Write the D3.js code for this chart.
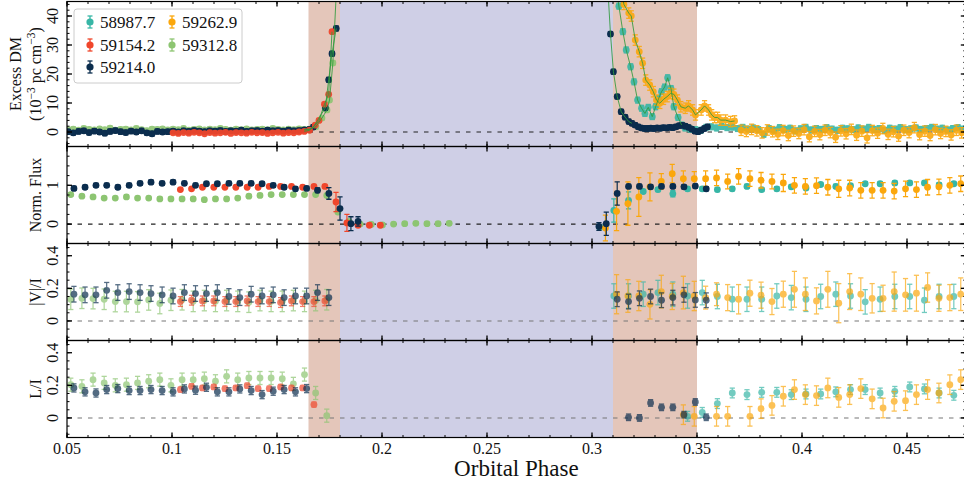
<!DOCTYPE html>
<html>
<head>
<meta charset="utf-8">
<script src="https://cdn.jsdelivr.net/npm/d3@7"></script>
<style>
  body { margin: 0; background: #fff; }
  svg { display: block; }
  text { font-family: "Liberation Serif", "DejaVu Serif", serif; fill: #111; }
</style>
</head>
<body>
<div id="chart"></div>
<script>
// ---- series ----
const seriesNames = ["58987.7", "59154.2", "59214.0", "59262.9", "59312.8"];
const seriesColors = ["#37b6a6", "#f0462b", "#0b2d4e", "#fba70c", "#8dc572"];

// ---- excess DM (1e-3 pc cm^-3), baselines sampled every 0.0025 in phase ----
const dmStep = 0.0025;
const navyDmStart = 0.0505;
const navyDmBase = [0.1, -0.3, 0.2, 0.4, -0.2, 0.3, 0.0, -0.4, 0.2, 0.5, 0.1, -0.2, 0.3, 0.0, 0.4, -0.3, -0.6, 0.2, 0.0, 0.1,
  0.3, 0.0, 0.4, 0.2, 0.5, 0.3, 0.1, 0.4, 0.3, 0.5, 0.2, 0.4, 0.3, 0.6, 0.2, 0.4, 0.5, 0.3, 0.6, 0.4,
  0.5, 0.3, 0.6, 0.4, 0.5, 0.7, 0.9];
const navyDmIngress = [[0.1673, 1.7], [0.173, 8.3], [0.1746, 18], [0.1762, 27], [0.1782, 35.7]];
const navyDmEgress = [[0.3075, 50], [0.3088, 33.8], [0.3102, 20.8], [0.312, 12.2], [0.3139, 7], [0.3158, 5.1], [0.3175, 3.6], [0.319, 3.0]];
const navyDmTail = [[0.3205, 2.4], [0.322, 1.8], [0.3235, 1.4], [0.325, 1.2], [0.3265, 1.2], [0.328, 1.3], [0.3295, 1.2],
  [0.331, 1.4], [0.3325, 1.3], [0.334, 1.5], [0.3355, 1.4], [0.337, 1.6], [0.3385, 1.5], [0.34, 1.8], [0.3415, 2.2],
  [0.343, 2.3], [0.3445, 2.0], [0.346, 1.6], [0.3475, 1.0], [0.349, 0.3], [0.3505, 0.1], [0.352, 0.6], [0.3535, 1.2], [0.355, 1.8]];

const greenDmStart = 0.0505;
const greenDmBase = [0.8, 1.0, 0.6, 1.2, 0.9, 0.7, 1.1, 0.8, 1.3, 0.6, 0.9, 1.0, 0.7, 1.2, 0.8, 0.5, 1.0, 0.9, 1.1, 0.7,
  1.0, 0.8, 1.2, 0.6, 0.9, 1.1, 0.7, 1.0, 0.8, 1.2, 0.9, 0.6, 1.0, 0.8, 1.1, 0.7, 0.9, 1.0, 0.8, 1.2,
  0.9, 0.7, 1.0, 0.8, 1.1, 0.9, 1.0];
const greenDmIngress = [[0.1685, 1.8], [0.1714, 4.8], [0.1738, 7.6], [0.175, 11], [0.1766, 23.8], [0.1785, 52]];

const redDmStart = 0.1005;
const redDmBase = [-0.3, -0.5, -0.2, -0.4, -0.1, -0.3, -0.6, -0.2, -0.4, -0.3, -0.1, -0.5, -0.2, -0.3, -0.4, -0.1,
  -0.3, -0.2, -0.5, -0.3, -0.1, -0.4, -0.2, -0.3, 0.0, 0.2, 0.6];
const redDmIngress = [[0.1682, 2.4], [0.170, 4.0], [0.1726, 9.6], [0.1746, 13], [0.1762, 34.6]];

const tealDmEgress = [[0.3115, 50], [0.3128, 43.4], [0.3147, 34.6], [0.3163, 28.3], [0.3184, 22.5], [0.32, 17.3], [0.3217, 11],
  [0.3236, 8.2], [0.3252, 6.4], [0.3268, 8.5], [0.3287, 5.3], [0.3303, 8.7], [0.3317, 11.5], [0.3331, 13.9],
  [0.3346, 15.5], [0.336, 18.7], [0.3376, 15], [0.339, 8.7], [0.341, 5], [0.3427, 2.4]];
const tealDmStart = 0.3443;
const tealDmBase = [1.4, 1.0, 0.8, 0.6, 1.6, 1.8, 1.4, 1.9, 1.5, 1.7, 1.2, 1.6, 1.0, 1.4,
  0.8, -0.8, 1.2, 0.6, 1.5, 0.9, 1.3, 0.4, 1.1, 1.6,
  0.7, 1.2, 0.9, 1.5, 1.0, 0.6, 1.3, 1.1, 0.8, 1.4,
  1.0, 1.6, 0.9, 1.2, 0.5, 1.3, 1.0, 1.5, 0.8, 1.1,
  1.4, 0.9, 1.2, 1.6, 1.0, 1.3, 0.7, 1.2, 1.5, 1.0, 1.1];

const orangeDmEgress = [[0.3135, 50], [0.3152, 44], [0.3175, 41], [0.3187, 40], [0.3206, 31.7], [0.3225, 27.7], [0.3241, 23.7],
  [0.3256, 17.9], [0.3275, 16.2], [0.3292, 13.9], [0.3307, 11], [0.3323, 9.9], [0.3341, 11.3], [0.3358, 12.2],
  [0.3374, 13.3], [0.339, 13], [0.3407, 11], [0.3423, 8.7], [0.3444, 8.2], [0.346, 9], [0.3479, 7.6], [0.3493, 5.9],
  [0.352, 7.6], [0.3536, 9], [0.3555, 7.6], [0.357, 5.9], [0.3584, 5], [0.3598, 5], [0.3613, 4.1], [0.3636, 4.1],
  [0.366, 3.6], [0.3679, 3.8]];
const orangeDmStart = 0.371;
const orangeDmBase = [0.6, 0.2, 0.9, 0.4, -0.3, 0.7, 0.1, -0.8, 0.5, -1.2,
  0.3, -0.5, 0.8, -1.6, 0.2, -0.9, 0.6, -0.2, -1.8, 0.4,
  -0.6, 0.9, -1.1, 0.3, -2.0, 0.5, -0.4, 1.2, -0.8, 0.1,
  -1.4, 0.6, -0.2, 1.5, -0.9, 0.3, -1.2, 0.8, -0.5, 0.2, -1.0, 0.6, -0.3];

const dmErr = { teal: 1.0, red: 0.5, navy: 0.8, orange: 1.8, green: 0.7 };

// ---- flux, |V|/I, L/I (null = no point) ----
const navyPhaseIn = [0.0533, 0.0586, 0.0638, 0.0689, 0.0742, 0.0796, 0.0848, 0.09, 0.0953, 0.1005, 0.1059, 0.1112, 0.1164,
  0.1216, 0.1271, 0.1323, 0.1377, 0.1429, 0.1482, 0.1534, 0.1588, 0.1641, 0.1693, 0.1747, 0.18, 0.1852, 0.1886];
const navyFluxIn = [0.92, 0.95, 1.0, 1.0, 0.95, 1.0, 1.05, 1.08, 1.05, 1.08, 1.05, 1.0, 1.04, 1.04, 1.05, 1.05, 1.05, 1.04,
  1.0, 0.95, 0.91, 0.92, 0.87, 0.79, 0.40, 0.01, 0.07];
const navyFluxInErr = [0.05, 0.05, 0.05, 0.05, 0.05, 0.05, 0.05, 0.05, 0.05, 0.05, 0.05, 0.05, 0.05, 0.05, 0.05, 0.05, 0.05,
  0.05, 0.05, 0.05, 0.05, 0.05, 0.06, 0.15, 0.3, 0.18, 0.12];
const navyVIn = [0.164, 0.16, 0.16, 0.188, 0.174, 0.18, 0.174, 0.168, 0.16, 0.153, 0.174, 0.168, 0.168, 0.174, 0.15, 0.143,
  0.164, 0.153, 0.16, 0.143, 0.153, 0.153, 0.174, 0.143, null, null, null];
const navyLIn = [0.184, 0.16, 0.153, 0.174, 0.18, 0.168, 0.168, 0.174, 0.168, 0.16, 0.178, 0.17, 0.188, 0.16, 0.16, 0.178,
  0.168, 0.143, 0.164, 0.174, 0.16, 0.18, null, null, null, null, null];

const navyPhaseOut = [0.3033, 0.3068, 0.312, 0.3174, 0.3226, 0.3279, 0.3331, 0.3385, 0.3438, 0.3492, 0.3544];
const navyFluxOut = [-0.06, 0.01, 0.79, 0.97, 0.97, 0.96, 0.97, 0.97, 0.96, 0.98, 0.91];
const navyFluxOutErr = [0.1, 0.3, 0.3, 0.05, 0.05, 0.05, 0.05, 0.05, 0.05, 0.05, 0.05];
const navyVOut = [null, null, 0.133, 0.119, 0.139, 0.15, 0.127, 0.143, 0.16, 0.129, 0.127];
const navyLOut = [null, null, null, 0.004, 0.0, 0.092, 0.065, 0.065, 0.02, 0.098, 0.004];

const redPhase = [0.104, 0.1093, 0.1145, 0.1199, 0.1252, 0.1304, 0.1358, 0.141, 0.1463, 0.1517, 0.1569, 0.1622, 0.1676,
  0.1728, 0.1781, 0.1833, 0.1886, 0.194, 0.1992];
const redFlux = [0.89, 0.91, 0.95, 0.95, 0.95, 0.95, 0.95, 0.95, 0.97, 0.97, 0.97, 0.95, 0.97, 0.97, 0.57, 0.03, -0.03, -0.03, -0.03];
const redFluxErr = [0.03, 0.03, 0.03, 0.03, 0.03, 0.03, 0.03, 0.03, 0.03, 0.03, 0.03, 0.03, 0.03, 0.04, 0.25, 0.22, 0.05, 0.04, 0.04];
const redV = [0.119, 0.127, 0.123, 0.123, 0.119, 0.119, 0.123, 0.119, 0.119, 0.113, 0.123, 0.119, 0.119, 0.123,
  null, null, null, null, null];
const redL = [0.174, 0.194, 0.184, 0.19, 0.18, 0.184, 0.198, 0.18, 0.18, 0.19, 0.184, 0.184, 0.082,
  null, null, null, null, null, null];

const greenPhase = [0.0518, 0.0571, 0.0624, 0.0677, 0.073, 0.0783, 0.0836, 0.0889, 0.0942, 0.0995, 0.1048, 0.1101, 0.1154,
  0.1207, 0.126, 0.1313, 0.1366, 0.1419, 0.1472, 0.1525, 0.1578, 0.1631, 0.1684, 0.1737, 0.179, 0.1843, 0.1896, 0.1949,
  0.2002, 0.2055, 0.2108, 0.2161, 0.2214, 0.2267, 0.232];
const greenFlux = [0.76, 0.72, 0.70, 0.67, 0.67, 0.70, 0.67, 0.67, 0.65, 0.65, 0.65, 0.65, 0.63, 0.65, 0.65, 0.67, 0.72, 0.74,
  0.76, 0.76, 0.76, 0.76, 0.76, 0.74, 0.31, 0.07, 0.0, -0.01, -0.02, 0.0, 0.01, 0.02, 0.01, 0.01, 0.02];
const greenV = [0.133, 0.139, 0.137, 0.133, 0.119, 0.119, 0.117, 0.129, 0.107, 0.127, 0.13, 0.12, 0.125, 0.12, 0.125, 0.12,
  0.115, 0.125, 0.12, 0.12, 0.125, 0.12, 0.125, 0.13, null, null, null, null, null, null, null, null, null, null, null];
const greenL = [0.204, 0.194, 0.235, 0.215, 0.2, 0.204, 0.215, 0.225, 0.235, 0.2, 0.235, 0.235, 0.241, 0.225, 0.255, 0.235,
  0.245, 0.245, 0.245, 0.241, 0.209, 0.266, 0.153, 0.014, null, null, null, null, null, null, null, null, null, null, null];

const tealPhase = [0.3037, 0.3104, 0.3174, 0.3244, 0.3314, 0.3385, 0.3455, 0.3525, 0.3597, 0.3668, 0.3738, 0.3808, 0.388,
  0.3949, 0.4019, 0.4089, 0.4161, 0.4231, 0.4301, 0.4372, 0.4442, 0.4513, 0.4583, 0.4653, 0.4723];
const tealFlux = [-0.08, 0.35, 0.61, 0.84, 0.89, 0.78, 0.91, 0.91, 0.89, 0.91, 0.97, 0.89, 0.91, 0.96, 0.93, 1.02, 0.97, 0.99,
  1.04, 1.04, 1.06, 1.06, 1.06, 1.01, 1.04];
const tealFluxErr = [0.06, 0.3, 0.22, 0.05, 0.05, 0.08, 0.05, 0.05, 0.05, 0.05, 0.05, 0.05, 0.05, 0.05, 0.05, 0.05, 0.05,
  0.05, 0.05, 0.05, 0.05, 0.05, 0.05, 0.05, 0.05];
const tealV = [null, 0.153, 0.153, 0.164, 0.174, 0.164, 0.153, 0.174, 0.15, 0.133, 0.133, 0.133, 0.153, 0.143, 0.133, 0.15,
  0.164, 0.153, 0.117, 0.133, 0.15, 0.15, 0.127, 0.15, 0.15];
const tealL = [null, null, null, null, null, null, 0.01, 0.034, 0.088, 0.153, 0.143, 0.157, 0.157, 0.143, 0.147, 0.147, 0.16,
  0.174, 0.174, 0.153, 0.163, 0.19, 0.178, 0.153, 0.139];

const orangePhase = [0.3064, 0.3117, 0.3171, 0.3223, 0.3276, 0.333, 0.3382, 0.3435, 0.3487, 0.3541, 0.3593, 0.3646, 0.3698,
  0.3752, 0.3805, 0.3857, 0.3911, 0.3964, 0.4016, 0.4069, 0.4123, 0.4175, 0.4227, 0.428, 0.4334, 0.4386, 0.4439, 0.4493,
  0.4545, 0.4598, 0.4652, 0.4704, 0.4756];
const orangeFlux = [-0.1, 0.33, 0.53, 0.70, 0.96, 1.10, 1.30, 1.17, 1.17, 1.17, 1.19, 1.10, 1.23, 1.17, 1.13, 1.10, 1.06, 1.0,
  0.97, 0.99, 0.95, 0.91, 0.93, 0.87, 0.87, 0.87, 0.85, 0.91, 0.89, 0.95, 0.96, 1.0, 1.04];
const orangeFluxErr = [0.33, 0.5, 0.56, 0.5, 0.36, 0.2, 0.24, 0.2, 0.18, 0.2, 0.2, 0.19, 0.2, 0.2, 0.2, 0.19, 0.22, 0.2, 0.2,
  0.2, 0.2, 0.22, 0.2, 0.2, 0.2, 0.2, 0.2, 0.2, 0.2, 0.2, 0.2, 0.2, 0.2];
const orangeV = [null, 0.164, 0.153, 0.153, 0.102, 0.18, 0.15, 0.174, 0.153, 0.143, 0.164, 0.143, 0.133, 0.17, 0.158, 0.119,
  0.164, 0.194, 0.164, 0.123, 0.194, 0.109, 0.18, 0.164, 0.139, 0.139, 0.18, 0.16, 0.17, 0.205, 0.139, 0.143, 0.164];
const orangeVErr = [null, 0.12, 0.1, 0.09, 0.09, 0.1, 0.08, 0.1, 0.09, 0.07, 0.07, 0.08, 0.09, 0.08, 0.08, 0.08, 0.08, 0.11,
  0.1, 0.08, 0.11, 0.12, 0.11, 0.1, 0.09, 0.08, 0.12, 0.1, 0.11, 0.09, 0.08, 0.08, 0.1];
const orangeL = [null, null, null, null, null, null, null, 0.02, 0.01, null, 0.01, 0.01, null, 0.01, 0.057, 0.077, 0.133,
  0.174, 0.143, 0.137, 0.184, 0.126, 0.143, 0.18, 0.117, 0.061, 0.102, 0.106, 0.143, 0.174, 0.153, 0.204, 0.235];

// ---- axes ----
const xDomain = [0.05, 0.478];
const xMajorTicks = [0.05, 0.1, 0.15, 0.2, 0.25, 0.3, 0.35, 0.4, 0.45];
const xTickLabels = ["0.05", "0.1", "0.15", "0.2", "0.25", "0.3", "0.35", "0.4", "0.45"];
const eclipseEdges = [0.165, 0.18, 0.31, 0.35];

const size = { width: 964, height: 484 };
const x = d3.scaleLinear().domain(xDomain).range([67, 67 + (xDomain[1] - xDomain[0]) * 2100]);

const panels = [
  { top: 1.5, bottom: 146.5, domain: [-5, 45], major: [0, 10, 20, 30, 40], labels: ["0", "10", "20", "30", "40"], minor: 2 },
  { top: 146.5, bottom: 243.5, domain: [-0.5, 2.0], major: [0, 1], labels: ["0", "1"], minor: 0.25 },
  { top: 243.5, bottom: 340.5, domain: [-0.12, 0.475], major: [0, 0.2, 0.4], labels: ["0", "0.2", "0.4"], minor: 0.05 },
  { top: 340.5, bottom: 437.5, domain: [-0.12, 0.475], major: [0, 0.2, 0.4], labels: ["0", "0.2", "0.4"], minor: 0.05 },
];
panels.forEach((p) => {
  p.y = d3.scaleLinear().domain(p.domain).range([p.bottom, p.top]);
});

const svg = d3.select("#chart").append("svg").attr("width", size.width).attr("height", size.height);
const defs = svg.append("defs");

const xl = x.range()[0], xr = x.range()[1];

panels.forEach((p, i) => {
  defs.append("clipPath").attr("id", "clip" + i)
    .append("rect").attr("x", xl).attr("y", p.top).attr("width", xr - xl).attr("height", p.bottom - p.top);

  const g = svg.append("g").attr("clip-path", `url(#clip${i})`);
  p.g = g;
  // eclipse shading
  g.append("rect").attr("x", x(eclipseEdges[0])).attr("width", x(eclipseEdges[1]) - x(eclipseEdges[0]))
    .attr("y", p.top).attr("height", p.bottom - p.top).attr("fill", "#e4c6ba");
  g.append("rect").attr("x", x(eclipseEdges[1])).attr("width", x(eclipseEdges[2]) - x(eclipseEdges[1]))
    .attr("y", p.top).attr("height", p.bottom - p.top).attr("fill", "#cfcfe6");
  g.append("rect").attr("x", x(eclipseEdges[2])).attr("width", x(eclipseEdges[3]) - x(eclipseEdges[2]))
    .attr("y", p.top).attr("height", p.bottom - p.top).attr("fill", "#e4c6ba");
  // zero line
  g.append("line").attr("x1", xl).attr("x2", xr).attr("y1", p.y(0)).attr("y2", p.y(0))
    .attr("stroke", i < 2 ? "#222" : "#777").attr("stroke-width", 1.1).attr("stroke-dasharray", "4.5,6");
});

const drawPoints = (g, y, pts, color, opts = {}) => {
  const r = opts.r || 3.4;
  const op = opts.opacity || 1;
  const grp = g.append("g").attr("opacity", op);
  pts.forEach(([px, v, e]) => {
    const cx = x(px);
    if (e) {
      grp.append("line").attr("x1", cx).attr("x2", cx).attr("y1", y(v - e)).attr("y2", y(v + e))
        .attr("stroke", color).attr("stroke-width", 1.2);
      [v - e, v + e].forEach((c) => {
        grp.append("line").attr("x1", cx - 2.6).attr("x2", cx + 2.6).attr("y1", y(c)).attr("y2", y(c))
          .attr("stroke", color).attr("stroke-width", 1.3);
      });
    }
    grp.append("circle").attr("cx", cx).attr("cy", y(v)).attr("r", r).attr("fill", color);
  });
};

const zipPts = (phases, vals, errs) =>
  phases.map((ph, i) => [ph, vals[i], Array.isArray(errs) ? errs[i] : errs]).filter((d) => d[1] !== null && d[1] !== undefined);
const basePts = (start, vals, err) => vals.map((v, i) => [start + i * dmStep, v, err]);
const pairPts = (arr, err) => arr.map(([ph, v]) => [ph, v, err]);

const [cTeal, cRed, cNavy, cOrange, cGreen] = seriesColors;

// ---- panel 1: excess DM ----
{
  const p = panels[0], g = p.g, y = p.y;
  const greenAll = basePts(greenDmStart, greenDmBase, dmErr.green).concat(pairPts(greenDmIngress, dmErr.green));
  const tealAll = pairPts(tealDmEgress, dmErr.teal).concat(basePts(tealDmStart, tealDmBase, dmErr.teal));
  const navyAll = basePts(navyDmStart, navyDmBase, dmErr.navy).concat(pairPts(navyDmIngress, dmErr.navy),
    pairPts(navyDmEgress, dmErr.navy), pairPts(navyDmTail, dmErr.navy));
  const redAll = basePts(redDmStart, redDmBase, dmErr.red).concat(pairPts(redDmIngress, dmErr.red));
  const orangeAll = pairPts(orangeDmEgress, dmErr.orange).concat(basePts(orangeDmStart, orangeDmBase, dmErr.orange));

  drawPoints(g, y, greenAll, cGreen, { opacity: 0.9 });
  drawPoints(g, y, tealAll, cTeal, { opacity: 0.9 });
  drawPoints(g, y, navyAll, cNavy);
  drawPoints(g, y, redAll, cRed, { opacity: 0.95 });
  drawPoints(g, y, orangeAll, cOrange, { opacity: 0.9 });

  const line = d3.line().x((d) => x(d[0])).y((d) => y(d[1]));
  const fits = [
    navyDmBase.slice(-2).map((v, i) => [navyDmStart + (navyDmBase.length - 2 + i) * dmStep, v]).concat(navyDmIngress),
    redDmBase.slice(-2).map((v, i) => [redDmStart + (redDmBase.length - 2 + i) * dmStep, v]).concat(redDmIngress),
    greenDmBase.slice(-2).map((v, i) => [greenDmStart + (greenDmBase.length - 2 + i) * dmStep, v]).concat(greenDmIngress),
    navyDmEgress,
    tealDmEgress,
    orangeDmEgress,
  ];
  fits.forEach((f) => {
    g.append("path").datum(f).attr("d", line).attr("fill", "none")
      .attr("stroke", "#2f9a3c").attr("stroke-width", 1).attr("stroke-opacity", 0.85);
  });
}

// ---- panel 2: normalised flux ----
{
  const p = panels[1], g = p.g, y = p.y;
  drawPoints(g, y, zipPts(greenPhase, greenFlux, 0.04), cGreen);
  drawPoints(g, y, zipPts(tealPhase, tealFlux, tealFluxErr), cTeal);
  drawPoints(g, y, zipPts(orangePhase, orangeFlux, orangeFluxErr), cOrange);
  drawPoints(g, y, zipPts(redPhase, redFlux, redFluxErr), cRed);
  drawPoints(g, y, zipPts(navyPhaseIn, navyFluxIn, navyFluxInErr), cNavy);
  drawPoints(g, y, zipPts(navyPhaseOut, navyFluxOut, navyFluxOutErr), cNavy);
}

// ---- panel 3: |V|/I ----
{
  const p = panels[2], g = p.g, y = p.y, o = { opacity: 0.7 };
  drawPoints(g, y, zipPts(greenPhase, greenV, 0.063), cGreen, o);
  drawPoints(g, y, zipPts(tealPhase, tealV, 0.075), cTeal, o);
  drawPoints(g, y, zipPts(orangePhase, orangeV, orangeVErr), cOrange, o);
  drawPoints(g, y, zipPts(redPhase, redV, 0.03), cRed, o);
  drawPoints(g, y, zipPts(navyPhaseIn, navyVIn, 0.048), cNavy, o);
  drawPoints(g, y, zipPts(navyPhaseOut, navyVOut, 0.045), cNavy, o);
}

// ---- panel 4: L/I ----
{
  const p = panels[3], g = p.g, y = p.y, o = { opacity: 0.7 };
  drawPoints(g, y, zipPts(greenPhase, greenL, 0.04), cGreen, o);
  drawPoints(g, y, zipPts(tealPhase, tealL, 0.03), cTeal, o);
  drawPoints(g, y, zipPts(orangePhase, orangeL, 0.06), cOrange, o);
  drawPoints(g, y, zipPts(redPhase, redL, 0.015), cRed, o);
  drawPoints(g, y, zipPts(navyPhaseIn, navyLIn, 0.025), cNavy, o);
  drawPoints(g, y, zipPts(navyPhaseOut, navyLOut, 0.02), cNavy, o);
}

// ---- frames and ticks ----
const xMinor = d3.range(0.05, xDomain[1], 0.01);
panels.forEach((p) => {
  const a = svg.append("g").attr("stroke", "#000");
  a.append("rect").attr("x", xl).attr("y", p.top).attr("width", xr - xl).attr("height", p.bottom - p.top)
    .attr("fill", "none").attr("stroke-width", 1.2);
  const tick = (x1, y1, x2, y2, w) =>
    a.append("line").attr("x1", x1).attr("y1", y1).attr("x2", x2).attr("y2", y2).attr("stroke-width", w);
  xMinor.forEach((v) => {
    tick(x(v), p.bottom, x(v), p.bottom - 2.5, 1);
    tick(x(v), p.top, x(v), p.top + 2.5, 1);
  });
  xMajorTicks.forEach((v) => {
    tick(x(v), p.bottom, x(v), p.bottom - 5, 1.3);
    tick(x(v), p.top, x(v), p.top + 5, 1.3);
  });
  const yMinor = d3.range(Math.ceil(p.domain[0] / p.minor) * p.minor, p.domain[1], p.minor);
  yMinor.forEach((v) => {
    tick(xl, p.y(v), xl + 2.5, p.y(v), 1);
    tick(xr, p.y(v), xr - 2.5, p.y(v), 1);
  });
  p.major.forEach((v, i) => {
    tick(xl, p.y(v), xl + 5, p.y(v), 1.3);
    tick(xr, p.y(v), xr - 5, p.y(v), 1.3);
    svg.append("text").text(p.labels[i])
      .attr("transform", `translate(${xl - 9},${p.y(v)}) rotate(-90)`)
      .attr("text-anchor", "middle").attr("font-size", 16);
  });
});

xMajorTicks.forEach((v, i) => {
  svg.append("text").text(xTickLabels[i]).attr("x", x(v)).attr("y", 454)
    .attr("text-anchor", "middle").attr("font-size", 16);
});
svg.append("text").text("Orbital Phase").attr("x", (xl + xr) / 2).attr("y", 476)
  .attr("text-anchor", "middle").attr("font-size", 23);

// y labels
const yLab = (t, cx, cy) =>
  svg.append("text").attr("transform", `translate(${cx},${cy}) rotate(-90)`).attr("text-anchor", "middle")
    .attr("font-size", 16).text(t);
yLab("Excess DM", 21, panels[0].y(20));
{
  const t = svg.append("text").attr("transform", `translate(41,${panels[0].y(20)}) rotate(-90)`)
    .attr("text-anchor", "middle").attr("font-size", 16);
  t.append("tspan").text("(10");
  t.append("tspan").attr("dy", -6).attr("font-size", 11.5).text("\u22123");
  t.append("tspan").attr("dy", 6).text(" pc cm");
  t.append("tspan").attr("dy", -6).attr("font-size", 11.5).text("\u22123");
  t.append("tspan").attr("dy", 6).text(")");
}
yLab("Norm. Flux", 41, (panels[1].top + panels[1].bottom) / 2);
yLab("|V|/I", 41, (panels[2].top + panels[2].bottom) / 2);
yLab("L/I", 41, (panels[3].top + panels[3].bottom) / 2);

// ---- legend ----
const legend = svg.append("g");
legend.append("rect").attr("x", 74).attr("y", 9).attr("width", 168).attr("height", 74).attr("rx", 3)
  .attr("fill", "#fff").attr("fill-opacity", 0.85).attr("stroke", "#ccc");
const legendPos = [[90, 22], [90, 45], [90, 67], [172, 22], [172, 45]];
seriesNames.forEach((name, i) => {
  const [lx, ly] = legendPos[i];
  const c = seriesColors[i];
  legend.append("line").attr("x1", lx).attr("x2", lx).attr("y1", ly - 6).attr("y2", ly + 6).attr("stroke", c).attr("stroke-width", 1.3);
  [ly - 6, ly + 6].forEach((cy) => {
    legend.append("line").attr("x1", lx - 2.5).attr("x2", lx + 2.5).attr("y1", cy).attr("y2", cy).attr("stroke", c).attr("stroke-width", 1.3);
  });
  legend.append("circle").attr("cx", lx).attr("cy", ly).attr("r", 3.6).attr("fill", c);
  legend.append("text").text(name).attr("x", lx + 10).attr("y", ly + 5.5).attr("font-size", 17);
});
</script>
</body>
</html>
